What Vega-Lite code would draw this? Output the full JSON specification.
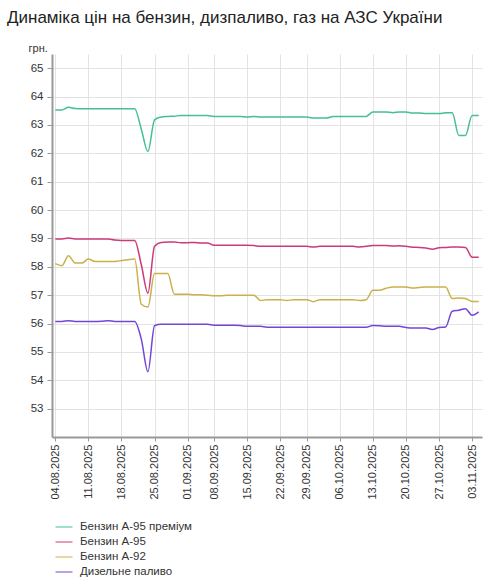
{
  "$schema": "https://vega.github.io/schema/vega-lite/v6.json",
  "width": 430,
  "height": 383,
  "autosize": {"type": "none"},
  "padding": {"left": 52, "top": 54, "right": 8, "bottom": 142},
  "background": "white",
  "title": {
    "text": "Динаміка цін на бензин, дизпаливо, газ на АЗС України",
    "anchor": "start",
    "frame": "group",
    "font": "Liberation Sans",
    "fontSize": 17,
    "fontWeight": "normal",
    "color": "#222222",
    "dx": -45,
    "offset": 15
  },
  "data": {
    "values": [
      {"date": "04.08.2025", "Бензин А-95 преміум": 63.53, "Бензин А-95": 58.98, "Бензин А-92": 58.11, "Дизельне паливо": 56.07},
      {"date": "05.08.2025", "Бензин А-95 преміум": 63.53, "Бензин А-95": 58.98, "Бензин А-92": 58.04, "Дизельне паливо": 56.07},
      {"date": "06.08.2025", "Бензин А-95 преміум": 63.62, "Бензин А-95": 59.01, "Бензин А-92": 58.39, "Дизельне паливо": 56.1},
      {"date": "07.08.2025", "Бензин А-95 преміум": 63.58, "Бензин А-95": 58.98, "Бензин А-92": 58.13, "Дизельне паливо": 56.07},
      {"date": "08.08.2025", "Бензин А-95 преміум": 63.57, "Бензин А-95": 58.98, "Бензин А-92": 58.13, "Дизельне паливо": 56.07},
      {"date": "11.08.2025", "Бензин А-95 преміум": 63.57, "Бензин А-95": 58.98, "Бензин А-92": 58.27, "Дизельне паливо": 56.07},
      {"date": "12.08.2025", "Бензин А-95 преміум": 63.57, "Бензин А-95": 58.98, "Бензин А-92": 58.19, "Дизельне паливо": 56.07},
      {"date": "13.08.2025", "Бензин А-95 преміум": 63.57, "Бензин А-95": 58.98, "Бензин А-92": 58.19, "Дизельне паливо": 56.08},
      {"date": "14.08.2025", "Бензин А-95 преміум": 63.57, "Бензин А-95": 58.98, "Бензин А-92": 58.19, "Дизельне паливо": 56.1},
      {"date": "15.08.2025", "Бензин А-95 преміум": 63.57, "Бензин А-95": 58.94, "Бензин А-92": 58.19, "Дизельне паливо": 56.07},
      {"date": "18.08.2025", "Бензин А-95 преміум": 63.57, "Бензин А-95": 58.93, "Бензин А-92": 58.22, "Дизельне паливо": 56.07},
      {"date": "19.08.2025", "Бензин А-95 преміум": 63.57, "Бензин А-95": 58.93, "Бензин А-92": 58.25, "Дизельне паливо": 56.07},
      {"date": "20.08.2025", "Бензин А-95 преміум": 63.57, "Бензин А-95": 58.93, "Бензин А-92": 58.27, "Дизельне паливо": 56.07},
      {"date": "21.08.2025", "Бензин А-95 преміум": 62.85, "Бензин А-95": 58.07, "Бензин А-92": 56.68, "Дизельне паливо": 55.45},
      {"date": "22.08.2025", "Бензин А-95 преміум": 62.06, "Бензин А-95": 57.07, "Бензин А-92": 56.58, "Дизельне паливо": 54.3},
      {"date": "25.08.2025", "Бензин А-95 преміум": 63.18, "Бензин А-95": 58.72, "Бензин А-92": 57.76, "Дизельне паливо": 55.92},
      {"date": "26.08.2025", "Бензин А-95 преміум": 63.28, "Бензин А-95": 58.86, "Бензин А-92": 57.76, "Дизельне паливо": 55.97},
      {"date": "27.08.2025", "Бензин А-95 преміум": 63.3, "Бензин А-95": 58.87, "Бензин А-92": 57.76, "Дизельне паливо": 55.97},
      {"date": "28.08.2025", "Бензин А-95 преміум": 63.31, "Бензин А-95": 58.87, "Бензин А-92": 57.03, "Дизельне паливо": 55.97},
      {"date": "29.08.2025", "Бензин А-95 преміум": 63.33, "Бензин А-95": 58.85, "Бензин А-92": 57.03, "Дизельне паливо": 55.97},
      {"date": "01.09.2025", "Бензин А-95 преміум": 63.33, "Бензин А-95": 58.85, "Бензин А-92": 57.03, "Дизельне паливо": 55.97},
      {"date": "02.09.2025", "Бензин А-95 преміум": 63.33, "Бензин А-95": 58.86, "Бензин А-92": 57.01, "Дизельне паливо": 55.97},
      {"date": "03.09.2025", "Бензин А-95 преміум": 63.33, "Бензин А-95": 58.84, "Бензин А-92": 57.01, "Дизельне паливо": 55.97},
      {"date": "04.09.2025", "Бензин А-95 преміум": 63.33, "Бензин А-95": 58.84, "Бензин А-92": 57.0, "Дизельне паливо": 55.97},
      {"date": "08.09.2025", "Бензин А-95 преміум": 63.3, "Бензин А-95": 58.76, "Бензин А-92": 56.98, "Дизельне паливо": 55.94},
      {"date": "09.09.2025", "Бензин А-95 преміум": 63.3, "Бензин А-95": 58.76, "Бензин А-92": 56.98, "Дизельне паливо": 55.94},
      {"date": "10.09.2025", "Бензин А-95 преміум": 63.3, "Бензин А-95": 58.76, "Бензин А-92": 57.0, "Дизельне паливо": 55.94},
      {"date": "11.09.2025", "Бензин А-95 преміум": 63.3, "Бензин А-95": 58.76, "Бензин А-92": 57.0, "Дизельне паливо": 55.94},
      {"date": "12.09.2025", "Бензин А-95 преміум": 63.3, "Бензин А-95": 58.76, "Бензин А-92": 57.0, "Дизельне паливо": 55.93},
      {"date": "15.09.2025", "Бензин А-95 преміум": 63.28, "Бензин А-95": 58.76, "Бензин А-92": 57.0, "Дизельне паливо": 55.9},
      {"date": "16.09.2025", "Бензин А-95 преміум": 63.3, "Бензин А-95": 58.75, "Бензин А-92": 57.0, "Дизельне паливо": 55.9},
      {"date": "17.09.2025", "Бензин А-95 преміум": 63.28, "Бензин А-95": 58.72, "Бензин А-92": 56.81, "Дизельне паливо": 55.9},
      {"date": "18.09.2025", "Бензин А-95 преміум": 63.28, "Бензин А-95": 58.72, "Бензин А-92": 56.84, "Дизельне паливо": 55.87},
      {"date": "19.09.2025", "Бензин А-95 преміум": 63.28, "Бензин А-95": 58.72, "Бензин А-92": 56.84, "Дизельне паливо": 55.87},
      {"date": "22.09.2025", "Бензин А-95 преміум": 63.28, "Бензин А-95": 58.72, "Бензин А-92": 56.84, "Дизельне паливо": 55.87},
      {"date": "23.09.2025", "Бензин А-95 преміум": 63.28, "Бензин А-95": 58.72, "Бензин А-92": 56.81, "Дизельне паливо": 55.87},
      {"date": "24.09.2025", "Бензин А-95 преміум": 63.28, "Бензин А-95": 58.72, "Бензин А-92": 56.84, "Дизельне паливо": 55.87},
      {"date": "25.09.2025", "Бензин А-95 преміум": 63.28, "Бензин А-95": 58.72, "Бензин А-92": 56.84, "Дизельне паливо": 55.87},
      {"date": "29.09.2025", "Бензин А-95 преміум": 63.28, "Бензин А-95": 58.72, "Бензин А-92": 56.84, "Дизельне паливо": 55.87},
      {"date": "30.09.2025", "Бензин А-95 преміум": 63.24, "Бензин А-95": 58.7, "Бензин А-92": 56.77, "Дизельне паливо": 55.87},
      {"date": "01.10.2025", "Бензин А-95 преміум": 63.24, "Бензин А-95": 58.72, "Бензин А-92": 56.84, "Дизельне паливо": 55.87},
      {"date": "02.10.2025", "Бензин А-95 преміум": 63.24, "Бензин А-95": 58.72, "Бензин А-92": 56.84, "Дизельне паливо": 55.87},
      {"date": "03.10.2025", "Бензин А-95 преміум": 63.3, "Бензин А-95": 58.72, "Бензин А-92": 56.84, "Дизельне паливо": 55.87},
      {"date": "06.10.2025", "Бензин А-95 преміум": 63.3, "Бензин А-95": 58.72, "Бензин А-92": 56.84, "Дизельне паливо": 55.87},
      {"date": "07.10.2025", "Бензин А-95 преміум": 63.3, "Бензин А-95": 58.72, "Бензин А-92": 56.84, "Дизельне паливо": 55.87},
      {"date": "08.10.2025", "Бензин А-95 преміум": 63.3, "Бензин А-95": 58.72, "Бензин А-92": 56.84, "Дизельне паливо": 55.87},
      {"date": "09.10.2025", "Бензин А-95 преміум": 63.3, "Бензин А-95": 58.7, "Бензин А-92": 56.81, "Дизельне паливо": 55.87},
      {"date": "10.10.2025", "Бензин А-95 преміум": 63.3, "Бензин А-95": 58.72, "Бензин А-92": 56.84, "Дизельне паливо": 55.87},
      {"date": "13.10.2025", "Бензин А-95 преміум": 63.46, "Бензин А-95": 58.75, "Бензин А-92": 57.17, "Дизельне паливо": 55.93},
      {"date": "14.10.2025", "Бензин А-95 преміум": 63.46, "Бензин А-95": 58.75, "Бензин А-92": 57.17, "Дизельне паливо": 55.92},
      {"date": "15.10.2025", "Бензин А-95 преміум": 63.46, "Бензин А-95": 58.75, "Бензин А-92": 57.24, "Дизельне паливо": 55.9},
      {"date": "16.10.2025", "Бензин А-95 преміум": 63.43, "Бензин А-95": 58.73, "Бензин А-92": 57.29, "Дизельне паливо": 55.9},
      {"date": "17.10.2025", "Бензин А-95 преміум": 63.46, "Бензин А-95": 58.74, "Бензин А-92": 57.29, "Дизельне паливо": 55.9},
      {"date": "20.10.2025", "Бензин А-95 преміум": 63.46, "Бензин А-95": 58.72, "Бензин А-92": 57.29, "Дизельне паливо": 55.86},
      {"date": "21.10.2025", "Бензин А-95 преміум": 63.42, "Бензин А-95": 58.69, "Бензин А-92": 57.25, "Дизельне паливо": 55.84},
      {"date": "22.10.2025", "Бензин А-95 преміум": 63.42, "Бензин А-95": 58.68, "Бензин А-92": 57.27, "Дизельне паливо": 55.84},
      {"date": "23.10.2025", "Бензин А-95 преміум": 63.4, "Бензин А-95": 58.66, "Бензин А-92": 57.29, "Дизельне паливо": 55.84},
      {"date": "24.10.2025", "Бензин А-95 преміум": 63.4, "Бензин А-95": 58.62, "Бензин А-92": 57.29, "Дизельне паливо": 55.79},
      {"date": "27.10.2025", "Бензин А-95 преміум": 63.4, "Бензин А-95": 58.67, "Бензин А-92": 57.29, "Дизельне паливо": 55.86},
      {"date": "28.10.2025", "Бензин А-95 преміум": 63.43, "Бензин А-95": 58.68, "Бензин А-92": 57.29, "Дизельне паливо": 55.88},
      {"date": "29.10.2025", "Бензин А-95 преміум": 63.43, "Бензин А-95": 58.7, "Бензин А-92": 56.88, "Дизельне паливо": 56.43},
      {"date": "30.10.2025", "Бензин А-95 преміум": 62.63, "Бензин А-95": 58.7, "Бензин А-92": 56.9, "Дизельне паливо": 56.47},
      {"date": "31.10.2025", "Бензин А-95 преміум": 62.63, "Бензин А-95": 58.68, "Бензин А-92": 56.88, "Дизельне паливо": 56.52},
      {"date": "03.11.2025", "Бензин А-95 преміум": 63.33, "Бензин А-95": 58.34, "Бензин А-92": 56.78, "Дизельне паливо": 56.29},
      {"date": "04.11.2025", "Бензин А-95 преміум": 63.33, "Бензин А-95": 58.34, "Бензин А-92": 56.78, "Дизельне паливо": 56.41}
    ]
  },
  "transform": [
    {
      "fold": ["Бензин А-95 преміум", "Бензин А-95", "Бензин А-92", "Дизельне паливо"],
      "as": ["fuel", "price"]
    }
  ],
  "mark": {"type": "line", "interpolate": "monotone", "strokeWidth": 1.5},
  "encoding": {
    "x": {
      "field": "date",
      "type": "ordinal",
      "sort": null,
      "scale": {"type": "point", "padding": 0.5},
      "axis": {
        "title": null,
        "values": ["04.08.2025", "11.08.2025", "18.08.2025", "25.08.2025", "01.09.2025", "08.09.2025", "15.09.2025", "22.09.2025", "29.09.2025", "06.10.2025", "13.10.2025", "20.10.2025", "27.10.2025", "03.11.2025"],
        "labelAngle": 270,
        "labelFontSize": 11,
        "labelPadding": 3,
        "grid": true,
        "tickSize": 4
      }
    },
    "y": {
      "field": "price",
      "type": "quantitative",
      "scale": {"domain": [52, 65.5], "nice": false, "zero": false},
      "axis": {
        "title": "грн.",
        "titleAngle": 0,
        "titleAlign": "left",
        "titleBaseline": "middle",
        "titleX": -24,
        "titleY": -6,
        "titleFontSize": 11,
        "titleFontWeight": "normal",
        "titleColor": "#333333",
        "values": [53, 54, 55, 56, 57, 58, 59, 60, 61, 62, 63, 64, 65],
        "labelFontSize": 11.5,
        "labelPadding": 4,
        "tickSize": 5,
        "grid": true
      }
    },
    "color": {
      "field": "fuel",
      "type": "nominal",
      "title": null,
      "scale": {
        "domain": ["Бензин А-95 преміум", "Бензин А-95", "Бензин А-92", "Дизельне паливо"],
        "range": ["#45bf96", "#cc3a7a", "#cbb04c", "#7446d6"]
      },
      "legend": {
        "orient": "none",
        "legendX": 3,
        "legendY": 464,
        "direction": "vertical",
        "symbolType": "stroke",
        "symbolSize": 289,
        "symbolStrokeWidth": 1,
        "labelFontSize": 11.5,
        "labelColor": "#333333",
        "labelOffset": 7,
        "rowPadding": -5
      }
    }
  },
  "config": {
    "font": "Liberation Sans",
    "view": {"stroke": null},
    "axis": {
      "domainColor": "#999999",
      "domainWidth": 2,
      "tickColor": "#999999",
      "gridColor": "#e3e3e3",
      "labelColor": "#333333",
      "labelFont": "Liberation Sans"
    }
  }
}
